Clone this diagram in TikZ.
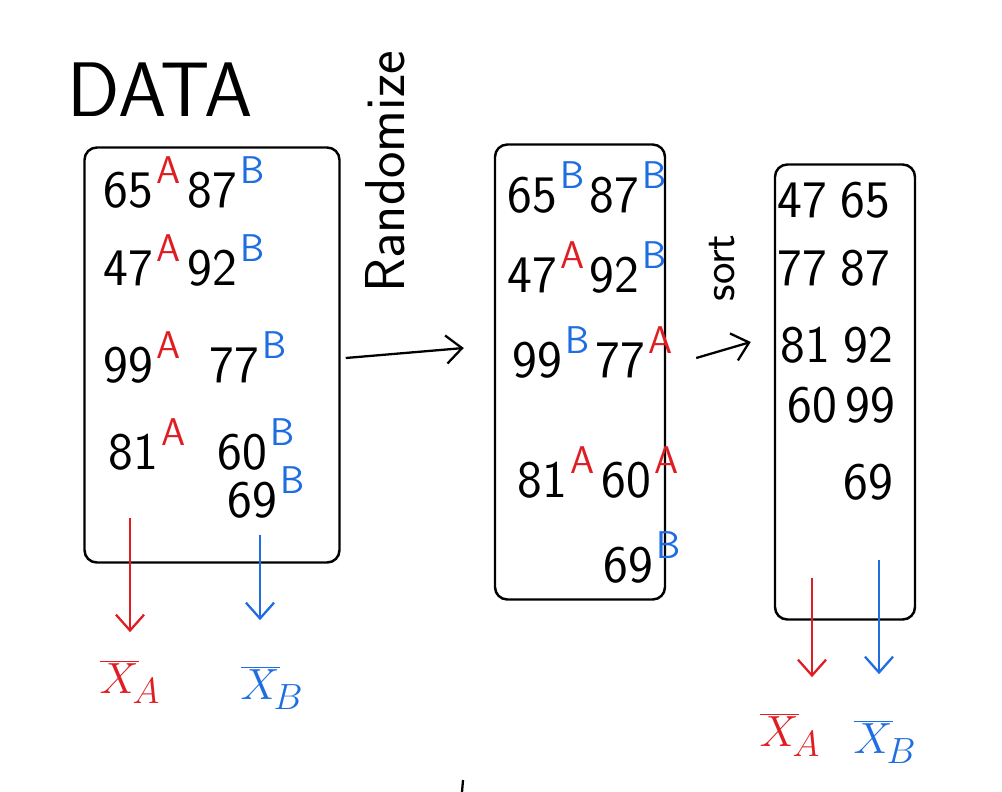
\documentclass[tikz,border=0pt]{standalone}
\usepackage{tikz}
\usetikzlibrary{arrows.meta,positioning,calc}
\definecolor{grpA}{RGB}{222,30,35}
\definecolor{grpB}{RGB}{30,110,225}

\tikzset{
  sheet/.style={draw, line width=1.4pt, rounded corners=7pt, inner sep=0pt},
  val/.style={font=\sffamily\fontsize{30}{30}\selectfont, inner sep=1pt},
  tagA/.style={text=grpA, font=\sffamily\fontsize{22}{22}\selectfont, inner sep=0pt, anchor=west, xshift=1pt},
  tagB/.style={text=grpB, font=\sffamily\fontsize{22}{22}\selectfont, inner sep=0pt, anchor=west, xshift=1pt},
  note/.style={font=\sffamily\fontsize{32}{32}\selectfont, inner sep=0pt},
  flow/.style={line width=1.3pt, -{Straight Barb[length=9pt,width=16pt]}},
  meanA/.style={text=grpA, font=\fontsize{30}{30}\selectfont},
  meanB/.style={text=grpB, font=\fontsize{30}{30}\selectfont},
  dropA/.style={flow, draw=grpA},
  dropB/.style={flow, draw=grpB},
}

\begin{document}
\begin{tikzpicture}[x=0.02cm, y=-0.02cm]
  \useasboundingbox (0,0) rectangle (1002,792);

  % title and the three sheets
  \node[font=\sffamily\fontsize{44}{44}\selectfont] (title) at (160,90) {DATA};
  \node[sheet, minimum width=255*0.02cm, minimum height=415*0.02cm] (data) at (212,355) {};
  \node[sheet, minimum width=170*0.02cm, minimum height=455*0.02cm] (shuf) at (580,372) {};
  \node[sheet, minimum width=140*0.02cm, minimum height=455*0.02cm] (sorted) at (845,392) {};

  % original data with group tags
  \foreach \x/\y/\v/\g in {128/190/65/A, 212/190/87/B, 128/268/47/A, 212/268/92/B,
                           128/365/99/A, 234/365/77/B, 133/452/81/A, 242/452/60/B,
                           252/500/69/B} {
    \node[val] (d\v) at (\x,\y) {\v};
    \node[tag\g] at (d\v.north east) {\g};
  }

  % shuffled labels
  \foreach \x/\y/\v/\g in {532/195/65/B, 614/195/87/B, 532/275/47/A, 614/275/92/B,
                           537/360/99/B, 620/360/77/A, 542/480/81/A, 626/480/60/A,
                           628/565/69/B} {
    \node[val] (s\v) at (\x,\y) {\v};
    \node[tag\g] at (s\v.north east) {\g};
  }

  % sorted values
  \foreach \x/\y/\v in {802/200/47, 865/200/65, 802/268/77, 865/268/87,
                        805/345/81, 868/345/92, 812/405/60, 870/405/99,
                        868/482/69} {
    \node[val] (o\v) at (\x,\y) {\v};
  }

  \node[note, rotate=90] (rnd) at (385,172) {Randomize};
  \node[note, rotate=90, font=\sffamily\fontsize{26}{26}\selectfont] (srt) at (722,268) {sort};

  \draw[flow] ($(data.east)+(5,3)$) -- ($(shuf.west)+(-30,-24)$);
  \draw[flow] ($(shuf.east)+(30,-14)$) -- ($(sorted.west)+(-23,-50)$);

  % group means
  \node[meanA] (mA) at (130,682) {$\overline{X}_{\!A}$};
  \node[meanB] (mB) at (272,688) {$\overline{X}_{\!B}$};
  \node[meanA] (mA2) at (790,735) {$\overline{X}_{\!A}$};
  \node[meanB] (mB2) at (885,742) {$\overline{X}_{\!B}$};

  \coordinate (tA) at (130,518);
  \coordinate (tB) at (260,535);
  \coordinate (tA2) at (812,578);
  \coordinate (tB2) at (879,560);
  \draw[dropA] (tA) -- ($(tA |- mA.north)+(0,-22)$);
  \draw[dropB] (tB) -- ($(tB |- mB.north)+(0,-40)$);
  \draw[dropA] (tA2) -- ($(tA2 |- mA2.north)+(0,-30)$);
  \draw[dropB] (tB2) -- ($(tB2 |- mB2.north)+(0,-40)$);

  \draw[line width=1.3pt] (463,780) -- (462,792);
\end{tikzpicture}
\end{document}
